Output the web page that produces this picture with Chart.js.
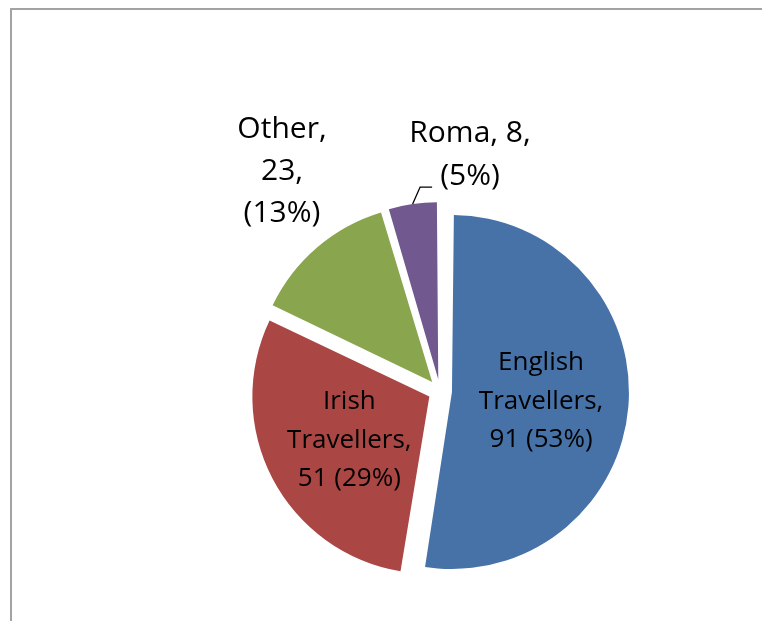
<!DOCTYPE html>
<html>
<head>
<meta charset="utf-8">
<script src="https://cdn.jsdelivr.net/npm/chart.js@4.4.1/dist/chart.umd.min.js"></script>
<style>
    html, body { margin: 0; padding: 0; background: #fff; }
    #wrap { position: relative; width: 762px; height: 621px; overflow: hidden; }
    #frame {
        position: absolute; left: 10px; top: 8px; width: 800px; height: 700px;
        border-left: 2px solid #a3a3a3; border-top: 2px solid #a3a3a3;
    }
    #c { position: absolute; left: 0; top: 0; }
</style>
</head>
<body>
<div id="wrap">
    <div id="frame"></div>
    <canvas id="c" width="762" height="621"></canvas>
</div>
<script>
const categories = ['English Travellers', 'Irish Travellers', 'Other', 'Roma'];
const counts = [91, 51, 23, 8];
const percents = [53, 29, 13, 5];
const sliceColors = ['#4672a8', '#aa4643', '#89a54e', '#71588f'];

// how each label wraps (Excel wrapped them differently)
const labelLines = [
    ['English', 'Travellers,', `${counts[0]} (${percents[0]}%)`],
    ['Irish', 'Travellers,', `${counts[1]} (${percents[1]}%)`],
    [`${categories[2]},`, `${counts[2]},`, `(${percents[2]}%)`],
    [`${categories[3]}, ${counts[3]},`, `(${percents[3]}%)`]
];

const RADIUS = 177;
const EXPLODE = 48;  // chart.js moves each slice by offset / 4
const CAP = 0.714;   // Open Sans cap height / font size

// angle in degrees clockwise from 12 o'clock (null = slice middle), dist in radii
const labelPlace = [
    { angle: null, dist: 0.505, size: 26, lineH: 38.5 },
    { angle: null, dist: 0.51, size: 26, lineH: 38.5 },
    { angle: -35.2, dist: 1.472, size: 30, lineH: 42 },
    { angle: 8.0, dist: 1.29, size: 30, lineH: 43, leader: true }
];

// chart.js grows an offset arc by offset/4 * (1 - sin(circ)); undo that so all slices share one radius
const evenRadius = {
    id: 'evenRadius',
    beforeDatasetsDraw(chart) {
        chart.getDatasetMeta(0).data.forEach(arc => {
            const fix = 1 - Math.sin(Math.min(Math.PI, arc.circumference));
            arc.outerRadius = RADIUS - (arc.options.offset || 0) / 4 * fix;
        });
    }
};

const sliceLabels = {
    id: 'sliceLabels',
    afterDatasetsDraw(chart) {
        const ctx = chart.ctx;
        const meta = chart.getDatasetMeta(0);
        ctx.save();
        ctx.fillStyle = '#000';
        ctx.textAlign = 'center';
        ctx.textBaseline = 'alphabetic';
        meta.data.forEach((arc, i) => {
            const { x, y, startAngle, endAngle } = arc.getProps(['x', 'y', 'startAngle', 'endAngle'], true);
            const r = RADIUS;
            const mid = (startAngle + endAngle) / 2;
            const shift = (arc.options.offset || 0) / 4;
            const cx = x + Math.cos(mid) * shift;
            const cy = y + Math.sin(mid) * shift;
            const p = labelPlace[i];
            const a = p.angle === null ? mid : (p.angle - 90) * Math.PI / 180;
            const lx = cx + Math.cos(a) * r * p.dist;
            const ly = cy + Math.sin(a) * r * p.dist;
            const lines = labelLines[i];
            ctx.font = `${p.size}px "Open Sans"`;
            lines.forEach((t, k) => {
                const mid_y = ly + (k - (lines.length - 1) / 2) * p.lineH;
                ctx.fillText(t, lx, mid_y + p.size * CAP / 2);
            });
            if (p.leader) {
                const ea = (-5.4 - 90) * Math.PI / 180;
                ctx.beginPath();
                ctx.strokeStyle = '#000';
                ctx.lineWidth = 1.3;
                ctx.moveTo(cx + Math.cos(mid) * r, cy + Math.sin(mid) * r);
                const ex = cx + Math.cos(ea) * r * 1.09;
                const ey = cy + Math.sin(ea) * r * 1.09;
                ctx.lineTo(ex, ey);
                ctx.lineTo(ex + 12, ey);
                ctx.stroke();
            }
        });
        ctx.restore();
    }
};

new Chart(document.getElementById('c'), {
    type: 'pie',
    data: {
        labels: categories,
        datasets: [{
            data: counts,
            backgroundColor: sliceColors,
            borderWidth: 0,
            offset: EXPLODE,
            hoverOffset: 0
        }]
    },
    options: {
        responsive: false,
        animation: false,
        events: [],
        radius: RADIUS,
        layout: { padding: { left: 118, top: 161, right: 0, bottom: 0 } },
        plugins: {
            legend: { display: false },
            tooltip: { enabled: false }
        }
    },
    plugins: [evenRadius, sliceLabels]
});
</script>
</body>
</html>
